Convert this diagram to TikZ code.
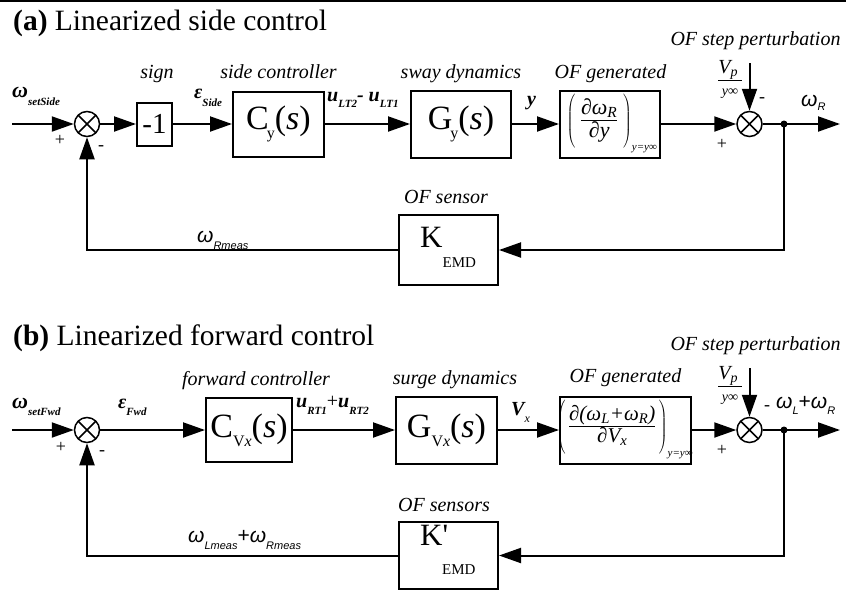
\documentclass[tikz,border=0pt]{standalone}
\usepackage{fontspec}
\setmainfont{Liberation Serif}
\newfontfamily\sansf{Liberation Sans}
\usetikzlibrary{arrows.meta}
\newcommand{\fsz}[1]{\fontsize{#1}{#1}\selectfont}
\newcommand{\tfr}[2]{\vcenter{\hbox{\setlength{\arrayrulewidth}{0.9pt}\begin{tabular}{@{}c@{}}#1\\[-1pt]\hline\rule{0pt}{16pt}#2\end{tabular}}}}
\begin{document}
\begin{tikzpicture}[x=1pt,y=-1pt,
  blk/.style={draw, line width=2pt, inner sep=0pt},
  arr/.style={-{Triangle[length=22pt,width=15pt]}, line width=2pt},
  sumj/.style={circle, draw, line width=1.5pt, minimum size=25pt, inner sep=0pt,
    path picture={\draw[line width=1.5pt] (path picture bounding box.north west) -- (path picture bounding box.south east) (path picture bounding box.north east) -- (path picture bounding box.south west);}},
  jdot/.style={circle, fill, inner sep=0pt, minimum size=7pt},
  lbl/.style={font=\fsz{20}\itshape, anchor=base, inner sep=0pt},
  sig/.style={font=\fsz{18}, inner sep=0pt},
  ttl/.style={font=\fsz{29.5}, anchor=base west, inner sep=0pt},
  vlab/.style={anchor=base west, inner sep=0pt},
  bigtxt/.style={font=\fsz{34}},
  fraca/.style={font=\fsz{22}\itshape, inner sep=0pt},
  fracb/.style={font=\fsz{21}\itshape, inner sep=0pt}
]
\useasboundingbox (0,0) rectangle (846,592);
\draw[line width=2pt] (0,1) -- (846,1);

% ---------------- (a) ----------------
\node[ttl] (ta) at (13,30) {\textbf{(a)} Linearized side control};
\coordinate (ina) at (12,124);
\node[sumj] (s1) at (87,124) {};
\node[blk, minimum width=35pt, minimum height=43pt, font=\fsz{29}] (neg) at (154.5,124) {-1};
\node[blk, bigtxt, minimum width=91pt, minimum height=65pt] (cy) at (278.5,124) {C\kern-2pt\raisebox{-9pt}{\fsz{16}y}(\textit{s})};
\node[blk, bigtxt, minimum width=100pt, minimum height=67pt] (gy) at (461,124) {G\kern-2pt\raisebox{-9pt}{\fsz{16}y}(\textit{s})};
\node[blk, minimum width=100pt, minimum height=67pt] (ofa) at (610,124) {};
\node[fraca] (ofat) at (612,123) {$\left(\rule[-23pt]{0pt}{56pt}\;\tfr{∂ω\textsubscript{R}}{∂y}\;\right)_{\mbox{\fsz{11}\itshape y=y∞}}$};
\node[sumj] (s2) at (749.5,124) {};
\node[jdot] (j1) at (784,124) {};
\coordinate (outa) at (840,124);
\coordinate (pa) at (749.5,63);
\node[blk, minimum width=99pt, minimum height=70pt] (ka) at (448.5,250) {};
\node[vlab] (kat) at (420,247) {\fsz{31}K\raisebox{-20pt}{\fsz{15}EMD}};

\draw[arr] (ina) -- (s1);
\draw[arr] (s1) -- (neg);
\draw[arr] (neg) -- (cy);
\draw[arr] (cy) -- (gy);
\draw[arr] (gy) -- (ofa);
\draw[arr] (ofa) -- (s2);
\draw[arr] (s2) -- (outa);
\draw[arr] (pa) -- (s2);
\draw[arr] (j1.center) -- (j1.center |- ka.east) -- (ka.east);
\draw[arr] (ka.west) -- (s1 |- ka.west) -- (s1.south);

\node[lbl] (la1) at (157,78) {sign};
\node[lbl] (la2) at (278.5,78) {side controller};
\node[lbl] (la3) at (461,78) {sway dynamics};
\node[lbl] (la4) at (610.5,78) {OF generated};
\node[lbl] (la5) at (755.5,45) {OF step perturbation};
\node[lbl] (la6) at (446,203) {OF sensor};

\node[vlab] (va1) at (12,97) {\fsz{22}\bfseries\itshape ω\raisebox{-8pt}{\fsz{11}setSide}};
\node[vlab] (va2) at (194,98) {\fsz{20}\bfseries\itshape ε\raisebox{-8pt}{\fsz{11}Side}};
\node[vlab] (va3) at (327,101) {\fsz{20}\bfseries\itshape u\raisebox{-6pt}{\fsz{11}LT2}- u\raisebox{-6pt}{\fsz{11}LT1}};
\node[vlab] (va4) at (527,105) {\fsz{20}\bfseries\itshape y};
\node[vlab] (va5) at (801,106) {\sansf\fsz{21}\itshape ω\raisebox{-4pt}{\fsz{11}R}};
\node[vlab] (va6) at (197,242) {\sansf\fsz{21}\itshape ω\raisebox{-7pt}{\fsz{11}Rmeas}};
\node[align=center, font=\fsz{20}\itshape, inner sep=0pt] (vpa) at (730,79) {\underline{V\textsubscript{p}\,}\\[2pt]{\fsz{14}y∞}};

\node[sig] (pl1) at (60,140) {+};
\node[sig] (mi1) at (101,148) {-};
\node[sig] (pl2) at (722,144) {+};
\node[sig] (mi2) at (762,100) {-};

% ---------------- (b) ----------------
\node[ttl] (tb) at (13,345) {\textbf{(b)} Linearized forward control};
\coordinate (inb) at (12,430);
\node[sumj] (s3) at (87,430) {};
\node[blk, bigtxt, minimum width=86pt, minimum height=64pt] (cv) at (249,430) {C\raisebox{-9pt}{\fsz{16}V\textit{x}}(\textit{s})};
\node[blk, bigtxt, minimum width=101pt, minimum height=67pt] (gv) at (446.5,430) {G\raisebox{-9pt}{\fsz{16}V\textit{x}}(\textit{s})};
\node[blk, minimum width=131pt, minimum height=67pt] (ofb) at (625.5,430) {};
\node[fracb] (ofbt) at (625,429) {$\left(\rule[-23pt]{0pt}{56pt}\,\tfr{∂(ω\textsubscript{L}+ω\textsubscript{R})}{∂V\textsubscript{x}}\,\right)_{\mbox{\fsz{11}\itshape y=y∞}}$};
\node[sumj] (s4) at (749.5,430) {};
\node[jdot] (j2) at (784,430) {};
\coordinate (outb) at (840,430);
\coordinate (pb) at (749.5,368);
\node[blk, minimum width=99pt, minimum height=67pt] (kb) at (448.5,555.5) {};
\node[vlab] (kbt) at (420,545) {\fsz{31}K\textquotesingle\kern-6pt\raisebox{-29pt}{\fsz{15}EMD}};

\draw[arr] (inb) -- (s3);
\draw[arr] (s3) -- (cv);
\draw[arr] (cv) -- (gv);
\draw[arr] (gv) -- (ofb);
\draw[arr] (ofb) -- (s4);
\draw[arr] (s4) -- (outb);
\draw[arr] (pb) -- (s4);
\draw[arr] (j2.center) -- (j2.center |- kb.east) -- (kb.east);
\draw[arr] (kb.west) -- (s3 |- kb.west) -- (s3.south);

\node[lbl] (lb2) at (256,385) {forward controller};
\node[lbl] (lb3) at (455,384) {surge dynamics};
\node[lbl] (lb4) at (625.5,382) {OF generated};
\node[lbl] (lb5) at (755.5,350) {OF step perturbation};
\node[lbl] (lb6) at (444,511) {OF sensors};

\node[vlab] (vb1) at (12,408) {\fsz{22}\bfseries\itshape ω\raisebox{-7pt}{\fsz{11}setFwd}};
\node[vlab] (vb2) at (118,408) {\fsz{20}\bfseries\itshape ε\raisebox{-7pt}{\fsz{11}Fwd}};
\node[vlab] (vb3) at (296,407) {\fsz{20}\bfseries\itshape u\raisebox{-7pt}{\fsz{11}RT1}\mdseries\upshape+\bfseries\itshape u\raisebox{-7pt}{\fsz{11}RT2}};
\node[vlab] (vb4) at (511,415) {\fsz{20}\bfseries\itshape V\raisebox{-7pt}{\fsz{12}\mdseries x}};
\node[vlab] (vb5) at (776,408) {\sansf\fsz{21}\itshape ω\raisebox{-6pt}{\fsz{11}L}\upshape+\itshape ω\raisebox{-6pt}{\fsz{11}R}};
\node[vlab] (vb6) at (188,542) {\sansf\fsz{21}\itshape ω\raisebox{-7pt}{\fsz{11}Lmeas}\upshape+\itshape ω\raisebox{-7pt}{\fsz{11}Rmeas}};
\node[align=center, font=\fsz{20}\itshape, inner sep=0pt] (vpb) at (730,385) {\underline{V\textsubscript{p}\,}\\[2pt]{\fsz{14}y∞}};

\node[sig] (pl3) at (61,447) {+};
\node[sig] (mi3) at (102,453) {-};
\node[sig] (pl4) at (722,450) {+};
\node[sig] (mi4) at (767,408) {-};
\end{tikzpicture}
\end{document}
